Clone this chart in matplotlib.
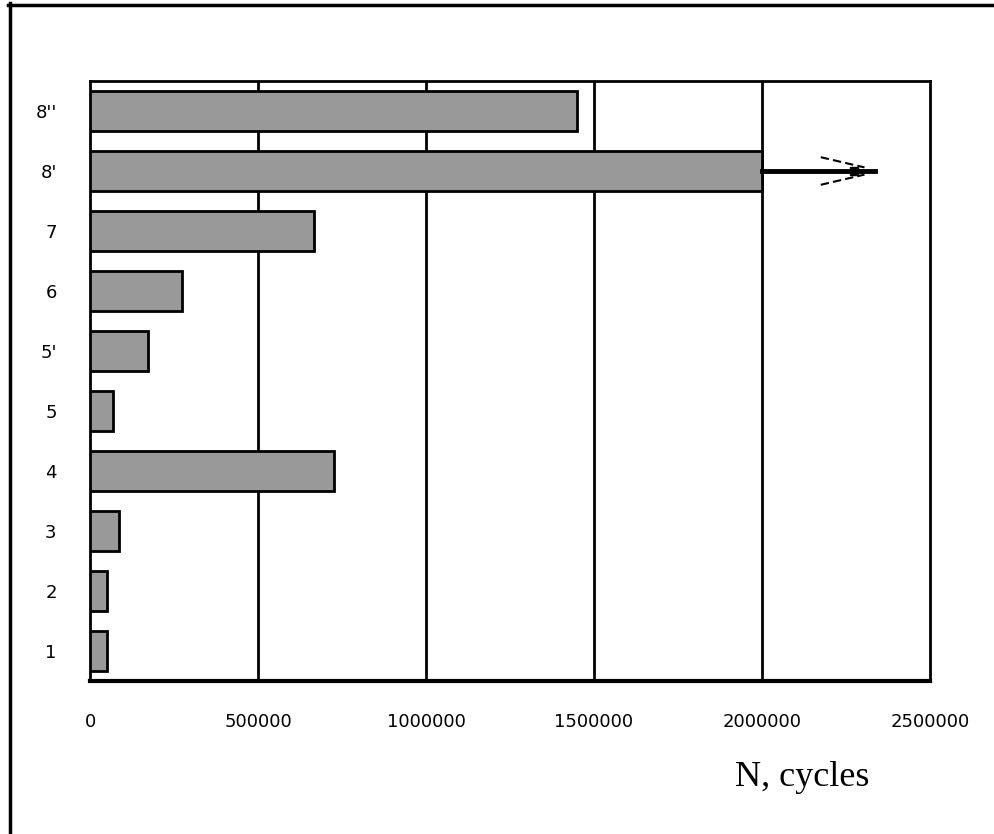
import matplotlib
matplotlib.use('Agg')
import matplotlib.pyplot as plt
from matplotlib.lines import Line2D

# specimen labels and fatigue lives (cycles), bottom to top
specimens = ['1', '2', '3', '4', '5', "5'", '6', '7', "8'", "8''"]
cycles = [51000, 51000, 86000, 726000, 69000, 173000, 274000, 667000, 2000000, 1450000]
xticks = [0, 500000, 1000000, 1500000, 2000000, 2500000]
runout_end = 2335000   # arrow for the run-out specimen 8'

fig = plt.figure(figsize=(9.94, 8.34), dpi=100)
W, H = 994, 834
ax = fig.add_axes([90 / W, 1 - 681 / H, 840 / W, 600 / H])

ypos = list(range(len(specimens)))
ax.barh(ypos, cycles, height=0.667, color='#999999', edgecolor='black', linewidth=2, zorder=3)

ax.set_xlim(0, 2500000)
ax.set_ylim(-0.5, len(specimens) - 0.5)
ax.set_xticks(xticks)
ax.set_xticklabels([str(v) for v in xticks], fontsize=13)
ax.set_yticks(ypos)
ax.set_yticklabels(specimens, fontsize=13)
ax.tick_params(axis='both', length=0)
ax.tick_params(axis='x', pad=23)
ax.tick_params(axis='y', pad=24)
for v in xticks[1:-1]:
    ax.axvline(v, color='black', linewidth=2, zorder=2)
for s in ax.spines.values():
    s.set_linewidth(2)
ax.spines['bottom'].set_linewidth(3)

# run-out arrow on 8'
i8 = specimens.index("8'")
ax.plot([cycles[i8], runout_end], [i8, i8], color='black', linewidth=3.5, zorder=4)
ax.plot([runout_end - 60000], [i8], marker='s', color='black', markersize=6, zorder=4)
ax.plot([runout_end - 160000, runout_end - 30000], [i8 + 0.23, i8 + 0.06], color='black',
        linewidth=1.5, linestyle=(0, (4, 2)), zorder=4)
ax.plot([runout_end - 160000, runout_end - 30000], [i8 - 0.23, i8 - 0.06], color='black',
        linewidth=1.5, linestyle=(0, (4, 2)), zorder=4)

fig.text(802 / W, 1 - 778 / H, 'N, cycles', family='Liberation Serif', fontsize=26,
         ha='center', va='center')

# frame of the original picture (top and left edge only)
fig.add_artist(Line2D([9.5 / W, 9.5 / W], [0, 1 - 3 / H], color='black', linewidth=2.5))
fig.add_artist(Line2D([8 / W, 1], [1 - 4.5 / H, 1 - 4.5 / H], color='black', linewidth=2.5))

fig.savefig('out.png', dpi=100)
